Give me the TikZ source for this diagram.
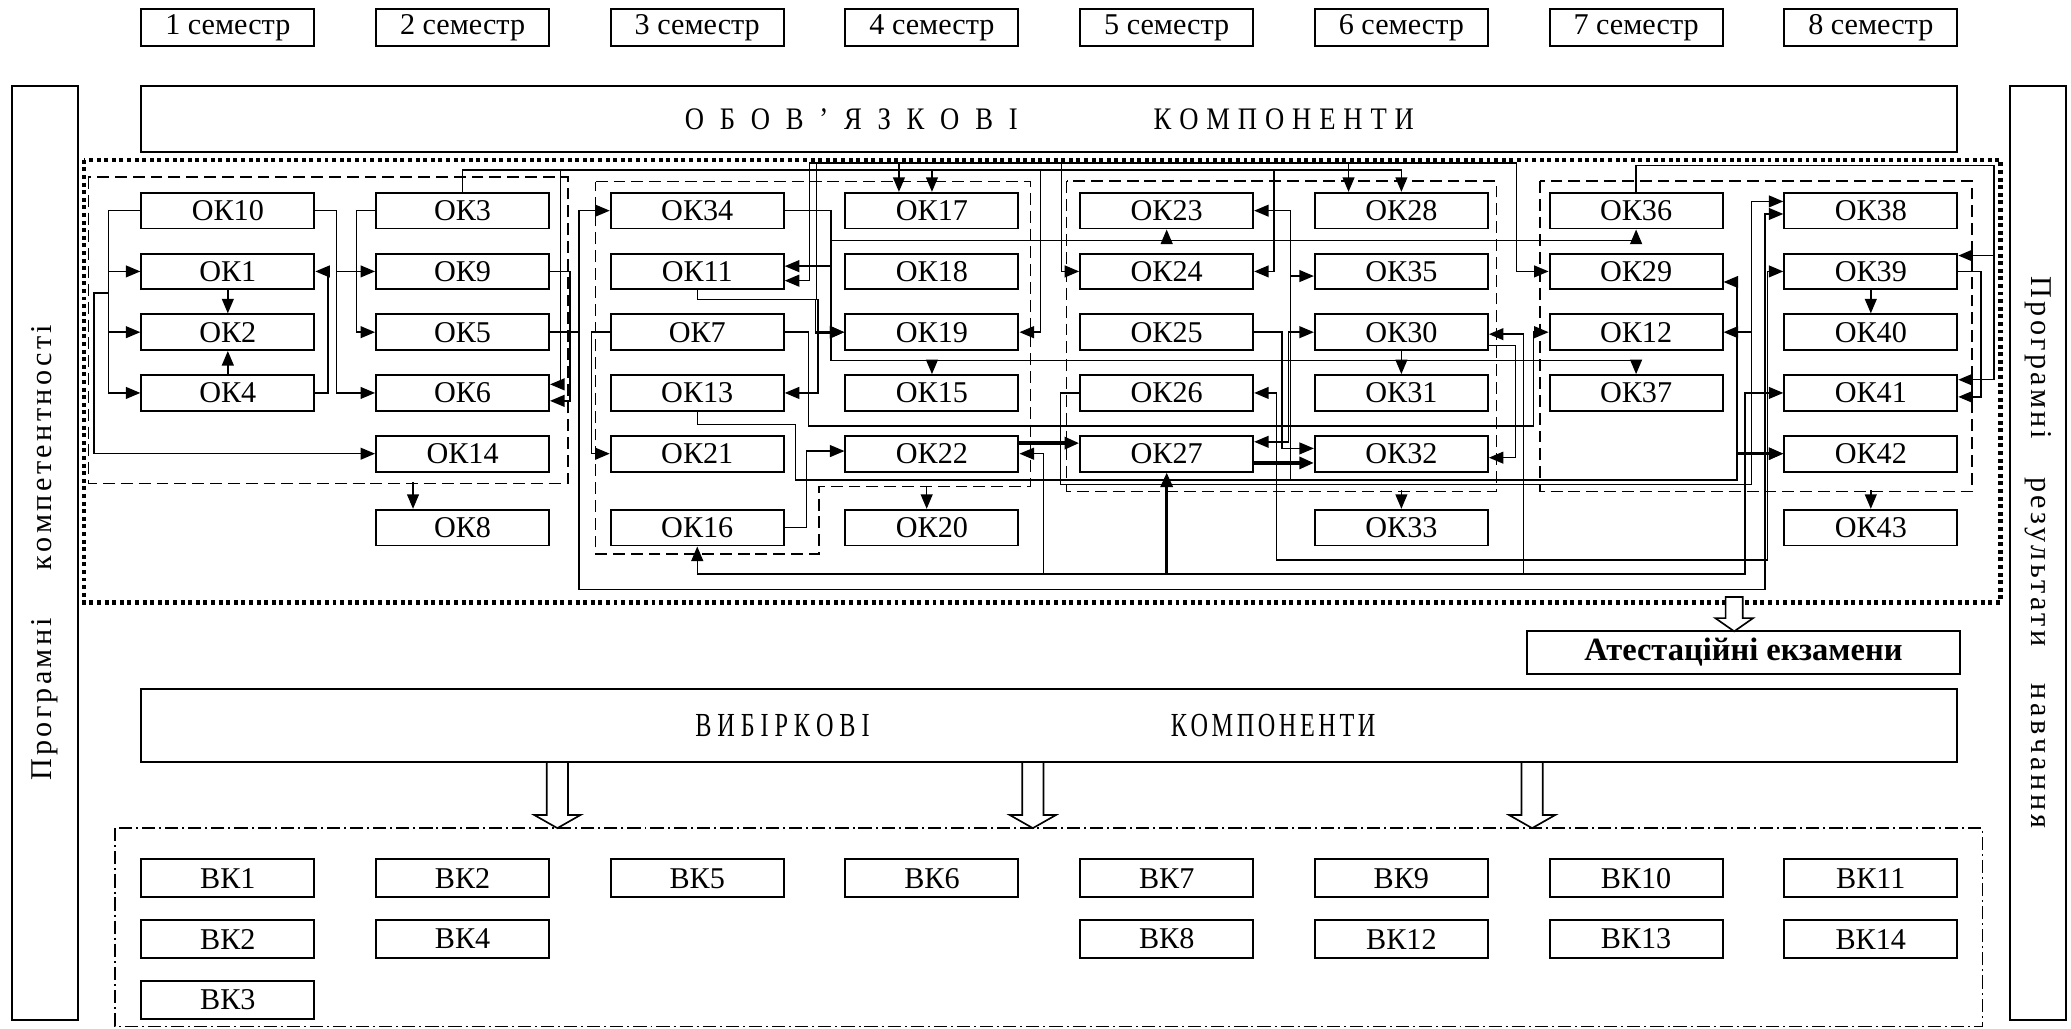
\documentclass[tikz,border=0pt]{standalone}
\usepackage{fontspec}
\setmainfont{Liberation Serif}
\newfontfamily\narrowfont[FakeStretch=0.72]{Liberation Serif}
\newfontfamily\titlefont[FakeStretch=0.85]{Liberation Serif}
\usepackage{tikz}
\usetikzlibrary{positioning, arrows.meta}

\tikzset{
  okbox/.style={draw, line width=0.3mm, minimum width=26.2mm, minimum height=5.4mm, inner sep=0pt, font=\fontsize{13}{15}\selectfont},
  sembox/.style={okbox, minimum height=5.6mm},
  vkbox/.style={okbox, minimum height=5.8mm},
  groupline/.style={line width=0.2mm, dash pattern=on 1.8mm off 0.9mm},
  bigdots/.style={line width=0.7mm, dash pattern=on 0.6mm off 0.55mm},
  dashdot/.style={line width=0.2mm, dash pattern=on 2mm off 0.6mm on 0.3mm off 0.6mm},
  heavy/.style={line width=0.5mm},
  bigbox/.style={draw, line width=0.3mm, inner sep=0pt},
}

% hollow block arrow: x, top y, tip y, half shaft width
\newcommand{\hollowdown}[4]{%
  \draw[line width=0.25mm, fill=white] (#1-#4,#2) -- (#1+#4,#2) -- (#1+#4,#3-10) -- (#1+2.2*#4,#3-10)
    -- (#1,#3) -- (#1-2.2*#4,#3-10) -- (#1-#4,#3-10) -- cycle;}

\begin{document}
\begin{tikzpicture}[x=0.2mm, y=-0.2mm, line width=0.22mm, on grid,
    node distance=9.2mm and 35.54mm, >={Triangle[length=2.2mm,width=1.8mm]}]
    \useasboundingbox (0,0) rectangle (1568,779);

    % semesters
    \node[sembox] (s1) at (172.5,21) {1 семестр};
    \node[sembox, right=of s1] (s2) {2 семестр};
    \node[sembox, right=of s2] (s3) {3 семестр};
    \node[sembox, right=of s3] (s4) {4 семестр};
    \node[sembox, right=of s4] (s5) {5 семестр};
    \node[sembox, right=of s5] (s6) {6 семестр};
    \node[sembox, right=of s6] (s7) {7 семестр};
    \node[sembox, right=of s7] (s8) {8 семестр};

    % side bars
    \node[bigbox, rotate=90, minimum width=141.4mm, minimum height=10mm, font=\fontsize{13}{15}\selectfont] (leftbar) at (34,418.5)
        {\makebox[24.6mm]{П\hfill р\hfill о\hfill г\hfill р\hfill а\hfill м\hfill н\hfill і}\hspace{7.2mm}\makebox[37.2mm]{к\hfill о\hfill м\hfill п\hfill е\hfill т\hfill е\hfill н\hfill т\hfill н\hfill о\hfill с\hfill т\hfill і}};
    \node[bigbox, rotate=-90, minimum width=141.4mm, minimum height=8.4mm, font=\fontsize{13}{15}\selectfont] (rightbar) at (1543,418.5)
        {\makebox[24.6mm]{П\hfill р\hfill о\hfill г\hfill р\hfill а\hfill м\hfill н\hfill і}\hspace{5.8mm}\makebox[25.6mm]{р\hfill е\hfill з\hfill у\hfill л\hfill ь\hfill т\hfill а\hfill т\hfill и}\hspace{5.6mm}\makebox[22mm]{н\hfill а\hfill в\hfill ч\hfill а\hfill н\hfill н\hfill я}};

    % mandatory block
    \node[bigbox, minimum width=275mm, minimum height=10mm, font=\titlefont\fontsize{13.5}{16}\selectfont] (obov) at (794.5,90)
        {\makebox[50.4mm]{О\hfill Б\hfill О\hfill В\hfill ’\hfill Я\hfill З\hfill К\hfill О\hfill В\hfill І}\hspace{20.6mm}\makebox[39.4mm]{К\hfill О\hfill М\hfill П\hfill О\hfill Н\hfill Е\hfill Н\hfill Т\hfill И}};
    \draw[bigdots] (63.5,121) rectangle (1514.5,456);

    % groups
    \draw[groupline] (67,134) rectangle (430,366);
    \draw[groupline] (451,137.5) -- (780,137.5) -- (780,368.5) -- (620,368.5) -- (620,419.5) -- (451,419.5) -- cycle;
    \draw[groupline] (807.5,137) rectangle (1133,372);
    \draw[groupline] (1166,137) rectangle (1493,372);

    % column 1
    \node[okbox] (ok10) at (172.5,159.5) {ОК10};
    \node[okbox, below=of ok10] (ok1) {ОК1};
    \node[okbox, below=of ok1] (ok2) {ОК2};
    \node[okbox, below=of ok2] (ok4) {ОК4};
    % column 2
    \node[okbox, right=of ok10] (ok3) {ОК3};
    \node[okbox, below=of ok3] (ok9) {ОК9};
    \node[okbox, below=of ok9] (ok5) {ОК5};
    \node[okbox, below=of ok5] (ok6) {ОК6};
    \node[okbox, below=of ok6] (ok14) {ОК14};
    \node[okbox, below=11.2mm of ok14] (ok8) {ОК8};
    % column 3
    \node[okbox, right=of ok3] (ok34) {ОК34};
    \node[okbox, below=of ok34] (ok11) {ОК11};
    \node[okbox, below=of ok11] (ok7) {ОК7};
    \node[okbox, below=of ok7] (ok13) {ОК13};
    \node[okbox, below=of ok13] (ok21) {ОК21};
    \node[okbox, below=11.2mm of ok21] (ok16) {ОК16};
    % column 4
    \node[okbox, right=of ok34] (ok17) {ОК17};
    \node[okbox, below=of ok17] (ok18) {ОК18};
    \node[okbox, below=of ok18] (ok19) {ОК19};
    \node[okbox, below=of ok19] (ok15) {ОК15};
    \node[okbox, below=of ok15] (ok22) {ОК22};
    \node[okbox, below=11.2mm of ok22] (ok20) {ОК20};
    % column 5
    \node[okbox, right=of ok17] (ok23) {ОК23};
    \node[okbox, below=of ok23] (ok24) {ОК24};
    \node[okbox, below=of ok24] (ok25) {ОК25};
    \node[okbox, below=of ok25] (ok26) {ОК26};
    \node[okbox, below=of ok26] (ok27) {ОК27};
    % column 6
    \node[okbox, right=of ok23] (ok28) {ОК28};
    \node[okbox, below=of ok28] (ok35) {ОК35};
    \node[okbox, below=of ok35] (ok30) {ОК30};
    \node[okbox, below=of ok30] (ok31) {ОК31};
    \node[okbox, below=of ok31] (ok32) {ОК32};
    \node[okbox, below=11.2mm of ok32] (ok33) {ОК33};
    % column 7
    \node[okbox, right=of ok28] (ok36) {ОК36};
    \node[okbox, below=of ok36] (ok29) {ОК29};
    \node[okbox, below=of ok29] (ok12) {ОК12};
    \node[okbox, below=of ok12] (ok37) {ОК37};
    % column 8
    \node[okbox, right=of ok36] (ok38) {ОК38};
    \node[okbox, below=of ok38] (ok39) {ОК39};
    \node[okbox, below=of ok39] (ok40) {ОК40};
    \node[okbox, below=of ok40] (ok41) {ОК41};
    \node[okbox, below=of ok41] (ok42) {ОК42};
    \node[okbox, below=11.2mm of ok42] (ok43) {ОК43};

    \coordinate (t2) at (618,123.5);
    \coordinate (j23) at (977,363.5);

    % first group
    \draw[->] (ok10.west) -- ++(-24,0) |- (ok1.west);
    \draw[->] (ok10.west) -- ++(-24,0) |- (ok2.west);
    \draw[->] (ok10.west) -- ++(-24,0) |- (ok4.west);
    \draw[->] (ok10.west) -- ++(-24,0) -- ++(0,62.5) -- ++(-11,0) |- (ok14.west);
    \draw[->] (ok1.south) -- (ok2.north);
    \draw[->] (ok4.north) -- (ok2.south);
    \draw[->] (ok4.east) -- ++(9.5,0) |- (ok1.east);
    \draw[->] (ok10.east) -- ++(16,0) |- (ok9.west);
    \draw[->] (ok10.east) -- ++(16,0) |- (ok6.west);
    \draw[->] (ok3.west) -- ++(-14,0) |- (ok5.west);
    \draw[->] (ok9.east) -- ++(15,0) |- ([yshift=-1.2mm]ok6.east);
    \draw[->] (ok5.east) -- ++(22,0) |- (ok34.west);
    \draw[->] (ok5.east) -- ++(22,0) -- ++(0,195) -- ++(898,0) |- ([yshift=-0.5mm]ok38.west);

    % upper line from OK3
    \draw[->] (ok3.north) -- ++(0,-16.5) -| (ok28.north);
    \draw[->] (ok3.north) -- ++(0,-16.5) -| (ok17.north);
    \draw[->] (ok3.north) -- ++(0,-16.5) -| ([xshift=1.6mm,yshift=1.3mm]ok6.east) -- ([yshift=1.3mm]ok6.east);
    \draw[->] (ok3.north) -- ++(0,-16.5) -| ([xshift=3.2mm]ok19.east) -- (ok19.east);
    \draw[->] (ok3.north) -- ++(0,-16.5) -| ([xshift=3mm]ok24.east) -- (ok24.east);

    % upper line from OK11
    \draw (ok11.south) -- ++(0,7) -| (t2);
    \draw[->] (ok11.south) -- ++(0,7) -| ([xshift=5mm]ok13.east) -- (ok13.east);
    \draw[->] (ok11.south) -- ++(0,7) -| ([xshift=-4.4mm]ok19.west) -- (ok19.west);
    \draw[->, heavy] ([xshift=-4.4mm]ok19.west) -- (ok19.west);
    \draw[->] (t2) -- (1148,123.5) |- (ok29.west);
    \draw[->] (t2) -| ([xshift=-5mm]ok17.north);
    \draw[->] (t2) -| ([xshift=-8mm]ok28.north);
    \draw[->] (t2) -| ([xshift=-2.7mm]ok24.west) -- (ok24.west);
    \draw[->] (t2) -- ++(-5,0) |- ([yshift=-1.4mm]ok11.east);

    % lines from OK34
    \draw[->] (ok34.east) -- ++(35,0) |- ([yshift=0.8mm]ok11.east);
    \draw[->] (ok34.east) -- ++(35,0) -- ++(0,113.5) -| (ok15.north);
    \draw[->] (ok34.east) -- ++(35,0) -- ++(0,113.5) -| (ok37.north);
    \draw[->] (ok34.east) -- ++(35,0) -- ++(0,22.5) -| (ok23.south);
    \draw[->] (ok34.east) -- ++(35,0) -- ++(0,22.5) -| (ok36.south);

    % OK7, OK13, OK16, OK22
    \draw[->] (ok7.east) -- ++(18,0) |- (1161,322.5) |- (ok12.west);
    \draw[->] (ok7.west) -- ++(-14,0) |- (ok21.west);
    \draw (ok13.south) -- ++(0,9.5) -- ++(74.5,0) |- (j23);
    \draw[->] (ok16.east) -- ++(16.5,0) |- ([yshift=0.4mm]ok22.west);
    \draw[->, heavy] ([yshift=1.6mm]ok22.east) -- ([yshift=1.6mm]ok27.west);

    % lower lines
    \draw[<->] (ok16.south) -- ++(0,21) -| ([xshift=-5.8mm]ok41.west) -- (ok41.west);
    \draw[<-] (ok22.east) -- ++(18,0) -- ++(0,90);
    \draw[<-, heavy] (ok27.south) -- ++(0,77);
    \draw[<-] ([yshift=-0.3mm]ok30.east) -- ++(26,0) -- ++(0,181);
    \draw[<->] (ok26.east) -- ++(17,0) |- (1338,424) |- (ok39.west);

    % fifth and sixth semesters
    \draw[->] (ok25.east) -- ++(21,0) |- ([yshift=0.8mm]ok32.west);
    \draw[->, heavy] ([yshift=-1.4mm]ok27.east) -- ([yshift=-1.4mm]ok32.west);
    \draw[<->] ([yshift=1.8mm]ok27.east) -- ++(26,0) |- (ok30.west);
    \draw[->] (j23) |- (ok23.east);
    \draw[->] (j23) |- ([yshift=-0.7mm]ok35.west);
    \draw[->] (j23) -- (1315,363.5) |- ([yshift=-1.6mm]ok29.east);
    \draw[->] (j23) -- (1315,363.5) |- (ok42.west);
    \draw[->, heavy] ([xshift=-7.2mm]ok42.west) -- (ok42.west);
    \draw[->] (ok26.west) -- ++(-14,0) |- (1326,367) |- ([yshift=1.4mm]ok38.west);
    \draw[->] (ok26.west) -- ++(-14,0) |- (1326,367) |- (ok12.east);
    \draw[->] ([yshift=-2mm]ok30.east) -- ++(20,0) |- ([yshift=-0.6mm]ok32.east);
    \draw[->] (ok30.south) -- (ok31.north);

    % seventh and eighth semesters
    \draw[->] (ok36.north) -- ++(0,-20) -| ([xshift=5.4mm,yshift=2.4mm]ok39.east) -- ([yshift=2.4mm]ok39.east);
    \draw[->] (ok36.north) -- ++(0,-20) -| ([xshift=5.4mm,yshift=2mm]ok41.east) -- ([yshift=2mm]ok41.east);
    \draw[->] (ok39.east) -- ++(17,0) |- ([yshift=-0.6mm]ok41.east);
    \draw[->] (ok39.south) -- (ok40.north);

    % out of the groups
    \draw[<-] ([xshift=-7.5mm]ok8.north) -- ++(0,-20);
    \draw[<-] ([xshift=-0.8mm]ok20.north) -- ++(0,-17.5);
    \draw[<-] (ok33.north) -- ++(0,-14);
    \draw[<-] (ok43.north) -- ++(0,-14);

    % exams
    \node[bigbox, minimum width=65.6mm, minimum height=6.4mm, font=\fontsize{14}{16}\selectfont\bfseries] (atest) at (1320,494) {Атестаційні екзамени};
    \hollowdown{1313}{452}{478}{6.5}

    % elective block
    \node[bigbox, minimum width=275mm, minimum height=11mm] (vyb) at (794.5,549.5) {};
    \node[anchor=west, font=\narrowfont\fontsize{14.5}{16}\selectfont] (vybtext) at (520,549.5)
        {\makebox[26.4mm]{В\hfill И\hfill Б\hfill І\hfill Р\hfill К\hfill О\hfill В\hfill І}\hspace{45.6mm}\makebox[31mm]{К\hfill О\hfill М\hfill П\hfill О\hfill Н\hfill Е\hfill Н\hfill Т\hfill И}};
    \draw[dashdot] (87,627) rectangle (1501,777);
    \hollowdown{422}{577}{627}{8}
    \hollowdown{782}{577}{627}{8}
    \hollowdown{1160}{577}{627}{8}

    \node[vkbox] (vk1) at (172.5,665) {ВК1};
    \node[vkbox, right=of vk1] (vk2) {ВК2};
    \node[vkbox, right=of vk2] (vk5) {ВК5};
    \node[vkbox, right=of vk5] (vk6) {ВК6};
    \node[vkbox, right=of vk6] (vk7) {ВК7};
    \node[vkbox, right=of vk7] (vk9) {ВК9};
    \node[vkbox, right=of vk9] (vk10) {ВК10};
    \node[vkbox, right=of vk10] (vk11) {ВК11};
    \node[vkbox, below=of vk1] (vk2b) {ВК2};
    \node[vkbox, below=of vk2] (vk4) {ВК4};
    \node[vkbox, below=of vk7] (vk8) {ВК8};
    \node[vkbox, below=of vk9] (vk12) {ВК12};
    \node[vkbox, below=of vk10] (vk13) {ВК13};
    \node[vkbox, below=of vk11] (vk14) {ВК14};
    \node[vkbox, below=of vk2b] (vk3) {ВК3};
\end{tikzpicture}
\end{document}
